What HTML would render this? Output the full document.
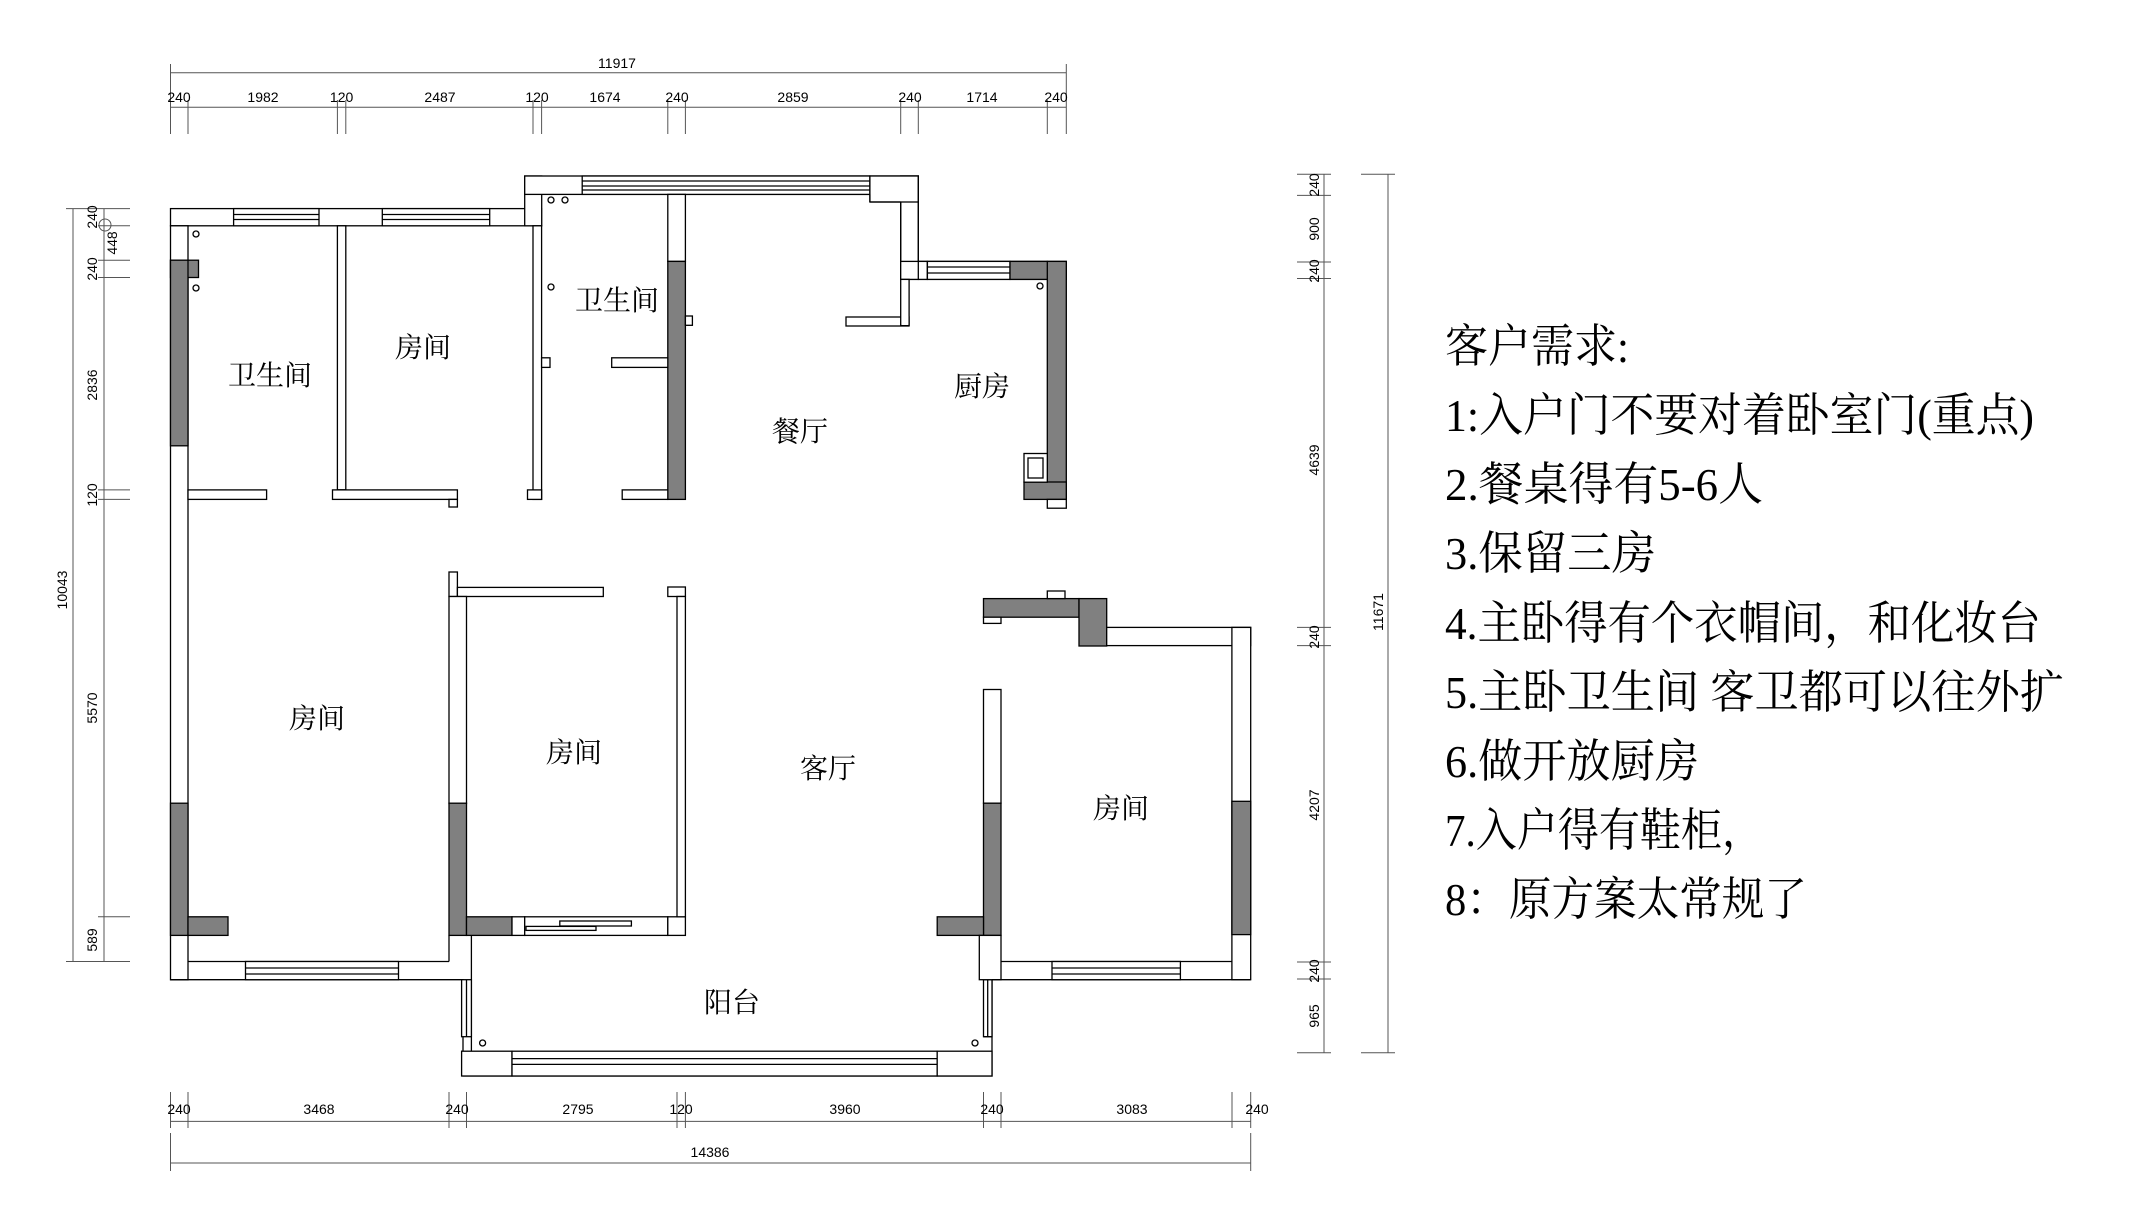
<!DOCTYPE html>
<html><head><meta charset="utf-8"><style>
html,body{margin:0;padding:0;background:#fff;width:2150px;height:1228px;overflow:hidden}
svg{display:block}
.w{fill:#fff;stroke:#000;stroke-width:1.3}
.g{fill:#808080;stroke:#000;stroke-width:1.3}
.l{stroke:#000;stroke-width:1.3;fill:none}
.d{stroke:#555;stroke-width:1;fill:none}
.t{font-family:"Liberation Sans","Noto Sans CJK SC",sans-serif;font-size:14px;fill:#000}
.r{font-family:"Liberation Serif","Noto Serif CJK SC",serif;font-size:28px;fill:#000}
.q{font-family:"Liberation Serif","Noto Serif CJK SC",serif;font-size:46px;fill:#000}
</style></head><body>
<svg width="2150" height="1228" viewBox="0 0 2150 1228" xmlns="http://www.w3.org/2000/svg">
<g class="d">
<line x1="170.5" y1="72.7" x2="1066.3" y2="72.7"/>
<line x1="170.5" y1="107.2" x2="1066.3" y2="107.2"/>
<line x1="170.5" y1="64" x2="170.5" y2="134"/><line x1="1066.3" y1="64" x2="1066.3" y2="134"/>
<line x1="188" y1="100" x2="188" y2="134"/><line x1="337.4" y1="100" x2="337.4" y2="134"/><line x1="345.8" y1="100" x2="345.8" y2="134"/>
<line x1="533" y1="100" x2="533" y2="134"/><line x1="541.6" y1="100" x2="541.6" y2="134"/><line x1="667.8" y1="100" x2="667.8" y2="134"/>
<line x1="685.4" y1="100" x2="685.4" y2="134"/><line x1="900.7" y1="100" x2="900.7" y2="134"/><line x1="918.3" y1="100" x2="918.3" y2="134"/>
<line x1="1047.3" y1="100" x2="1047.3" y2="134"/>
</g>
<g class="t" text-anchor="middle">
<text x="617" y="68">11917</text>
<text x="179" y="102">240</text><text x="263" y="102">1982</text><text x="341.6" y="102">120</text><text x="440" y="102">2487</text>
<text x="537" y="102">120</text><text x="605" y="102">1674</text><text x="677" y="102">240</text><text x="793" y="102">2859</text>
<text x="910" y="102">240</text><text x="982" y="102">1714</text><text x="1056" y="102">240</text>
</g>
<g class="d">
<line x1="170.5" y1="1121.4" x2="1250.7" y2="1121.4"/>
<line x1="170.5" y1="1163" x2="1250.7" y2="1163"/>
<line x1="170.5" y1="1092" x2="170.5" y2="1128"/><line x1="188" y1="1092" x2="188" y2="1128"/>
<line x1="449" y1="1092" x2="449" y2="1128"/><line x1="466.5" y1="1092" x2="466.5" y2="1128"/>
<line x1="677" y1="1092" x2="677" y2="1128"/><line x1="685.4" y1="1092" x2="685.4" y2="1128"/>
<line x1="983.5" y1="1092" x2="983.5" y2="1128"/><line x1="1001" y1="1092" x2="1001" y2="1128"/>
<line x1="1232" y1="1092" x2="1232" y2="1128"/><line x1="1250.7" y1="1092" x2="1250.7" y2="1128"/>
<line x1="170.5" y1="1133" x2="170.5" y2="1171"/><line x1="1250.7" y1="1133" x2="1250.7" y2="1171"/>
</g>
<g class="t" text-anchor="middle">
<text x="179" y="1114">240</text><text x="319" y="1114">3468</text><text x="457" y="1114">240</text>
<text x="578" y="1114">2795</text><text x="681" y="1114">120</text><text x="845" y="1114">3960</text>
<text x="992" y="1114">240</text><text x="1132" y="1114">3083</text><text x="1257" y="1114">240</text>
<text x="710" y="1157">14386</text>
</g>
<g class="d">
<line x1="73" y1="208.6" x2="73" y2="961.5"/>
<line x1="104" y1="208.6" x2="104" y2="961.5"/>
<line x1="66" y1="208.6" x2="130" y2="208.6"/><line x1="66" y1="961.5" x2="130" y2="961.5"/>
<line x1="98" y1="225.8" x2="130" y2="225.8"/><line x1="98" y1="260.2" x2="130" y2="260.2"/>
<line x1="98" y1="277.5" x2="130" y2="277.5"/><line x1="98" y1="489.9" x2="130" y2="489.9"/>
<line x1="98" y1="499.4" x2="130" y2="499.4"/><line x1="98" y1="916.8" x2="130" y2="916.8"/>
</g>
<g class="t" text-anchor="middle">
<text transform="translate(97,217) rotate(-90)">240</text>
<text transform="translate(117,243) rotate(-90)">448</text>
<text transform="translate(97,269) rotate(-90)">240</text>
<text transform="translate(97,385) rotate(-90)">2836</text>
<text transform="translate(97,495) rotate(-90)">120</text>
<text transform="translate(97,708) rotate(-90)">5570</text>
<text transform="translate(97,940) rotate(-90)">589</text>
<text transform="translate(67,590) rotate(-90)">10043</text>
</g>
<circle cx="105" cy="225" r="6" class="d"/>
<g class="d">
<line x1="1324" y1="174.2" x2="1324" y2="1052.8"/>
<line x1="1388" y1="174.2" x2="1388" y2="1052.8"/>
<line x1="1297" y1="174.2" x2="1331" y2="174.2"/><line x1="1297" y1="195.4" x2="1331" y2="195.4"/>
<line x1="1297" y1="262" x2="1331" y2="262"/><line x1="1297" y1="278.5" x2="1331" y2="278.5"/>
<line x1="1297" y1="627.4" x2="1331" y2="627.4"/><line x1="1297" y1="645.6" x2="1331" y2="645.6"/>
<line x1="1297" y1="962" x2="1331" y2="962"/><line x1="1297" y1="979" x2="1331" y2="979"/>
<line x1="1297" y1="1052.8" x2="1331" y2="1052.8"/>
<line x1="1361" y1="174.2" x2="1395" y2="174.2"/><line x1="1361" y1="1052.8" x2="1395" y2="1052.8"/>
</g>
<g class="t" text-anchor="middle">
<text transform="translate(1319,185) rotate(-90)">240</text>
<text transform="translate(1319,229) rotate(-90)">900</text>
<text transform="translate(1319,271) rotate(-90)">240</text>
<text transform="translate(1319,460) rotate(-90)">4639</text>
<text transform="translate(1319,637) rotate(-90)">240</text>
<text transform="translate(1319,805) rotate(-90)">4207</text>
<text transform="translate(1319,971) rotate(-90)">240</text>
<text transform="translate(1319,1016) rotate(-90)">965</text>
<text transform="translate(1383,612) rotate(-90)">11671</text>
</g>

<rect class="w" x="170.5" y="208.6" width="371" height="17.2"/>
<rect class="w" x="233.6" y="208.6" width="85.4" height="17.2"/>
<line class="l" x1="233.6" y1="214.5" x2="319" y2="214.5"/><line class="l" x1="233.6" y1="219.5" x2="319" y2="219.5"/>
<rect class="w" x="382.3" y="208.6" width="107.4" height="17.2"/>
<line class="l" x1="382.3" y1="214.5" x2="489.7" y2="214.5"/><line class="l" x1="382.3" y1="219.5" x2="489.7" y2="219.5"/>
<rect class="w" x="524.7" y="176" width="17" height="49.8"/>
<rect class="w" x="524.7" y="176" width="393.6" height="18.4"/>
<rect class="w" x="582.2" y="176" width="287.7" height="18.4"/>
<line class="l" x1="582.2" y1="181" x2="869.9" y2="181"/><line class="l" x1="582.2" y1="186" x2="869.9" y2="186"/><line class="l" x1="582.2" y1="190" x2="869.9" y2="190"/>
<rect class="w" x="900.7" y="176" width="17.6" height="103.4"/>
<rect class="w" x="869.9" y="176" width="48.4" height="26" stroke="none"/>
<line class="l" x1="869.9" y1="194.4" x2="869.9" y2="202"/><line class="l" x1="869.9" y1="202" x2="900.7" y2="202"/>
<line class="l" x1="918.3" y1="176" x2="918.3" y2="261.4"/><line class="l" x1="900.7" y1="202" x2="900.7" y2="279.4"/>
<rect class="w" x="900.7" y="261.4" width="146.6" height="18"/>
<rect class="w" x="918.3" y="261.4" width="9" height="18" stroke="none"/>
<rect class="w" x="927.4" y="261.4" width="82.6" height="18"/>
<line class="l" x1="927.4" y1="267" x2="1010" y2="267"/><line class="l" x1="927.4" y1="273" x2="1010" y2="273"/>
<rect class="g" x="1010" y="261.4" width="56.3" height="18"/>
<rect class="g" x="1047.3" y="261.4" width="19" height="238"/>
<rect class="g" x="1024" y="482" width="42.3" height="17.4"/>
<rect class="w" x="1047.3" y="499.4" width="19" height="8.8"/>
<rect class="w" x="1024" y="453.5" width="23.3" height="28.7"/>
<rect class="w" x="1028" y="458" width="15" height="20"/>
<rect class="w" x="846" y="317" width="63" height="9"/>
<rect class="w" x="900.7" y="279.4" width="8.4" height="46" />
<rect x="901.5" y="316" width="6.8" height="9" fill="#fff"/>
<rect class="w" x="170.5" y="225.8" width="17.5" height="754"/>
<rect class="g" x="170.5" y="260.2" width="28" height="17.3"/>
<rect class="g" x="170.5" y="260.2" width="17.5" height="185.6"/>
<rect class="g" x="170.5" y="803.2" width="17.5" height="132.2"/>
<rect class="g" x="188" y="916.8" width="40" height="18.6"/>
<rect class="w" x="337.4" y="225.8" width="8.4" height="264"/>
<rect class="w" x="188" y="489.9" width="78.6" height="9.5"/>
<rect class="w" x="332.5" y="489.9" width="124.9" height="9.5"/>
<rect class="w" x="449" y="499.4" width="8.4" height="7.6"/>
<rect class="w" x="533" y="225.8" width="8.6" height="273.6"/>
<rect class="w" x="527.5" y="489.9" width="14.1" height="9.5"/>
<rect class="w" x="541.6" y="357.8" width="8.4" height="9.6"/>
<rect class="w" x="667.8" y="194.4" width="17.6" height="67"/>
<rect class="g" x="667.8" y="261.4" width="17.6" height="238"/>
<rect class="w" x="611.7" y="357.8" width="56.1" height="9.6"/>
<rect class="w" x="622.2" y="489.9" width="45.6" height="9.5"/>
<rect class="w" x="685.4" y="316" width="7" height="9.3"/>
<g class="l">
<circle cx="196" cy="234" r="3"/><circle cx="196" cy="288" r="3"/><circle cx="551" cy="200" r="3"/><circle cx="565" cy="200" r="3"/>
<circle cx="551" cy="287" r="3"/><circle cx="1040" cy="286" r="3"/><circle cx="482.6" cy="1043" r="3"/><circle cx="975" cy="1043" r="3"/>
</g>
<path class="l" d="M170.5 979.7 H463 V1076 H992 V979.7"/>
<line class="l" x1="188" y1="961.5" x2="449" y2="961.5"/>
<rect class="w" x="245.5" y="961.5" width="153" height="18.2"/>
<line class="l" x1="245.5" y1="968" x2="398.5" y2="968"/><line class="l" x1="245.5" y1="974" x2="398.5" y2="974"/>
<rect class="w" x="449" y="572" width="8.4" height="24.5"/>
<rect class="w" x="457.4" y="587.4" width="145.9" height="9.1"/>
<rect class="w" x="449" y="596.5" width="17.5" height="207"/>
<rect class="g" x="449" y="803.2" width="17.5" height="132.2"/>
<rect class="g" x="466.5" y="916.8" width="45.5" height="18.6"/>
<rect class="w" x="512" y="916.8" width="12.7" height="18.6"/>
<rect class="w" x="524.7" y="916.8" width="143.1" height="18.6"/>
<rect class="w" x="559.8" y="921" width="71.6" height="5"/>
<rect class="w" x="526" y="926.4" width="70" height="4"/>
<rect class="w" x="667.8" y="916.8" width="17.6" height="18.6"/>
<rect class="w" x="667.8" y="587" width="17.6" height="9.5"/>
<rect class="w" x="677" y="596.5" width="8.4" height="320.3"/>
<line class="l" x1="449" y1="935.4" x2="449" y2="961.5"/>
<line class="l" x1="471.4" y1="935.4" x2="471.4" y2="1051"/>
<rect class="w" x="461.6" y="979.7" width="9.8" height="57"/>
<line class="l" x1="466.5" y1="979.7" x2="466.5" y2="1036.7"/>
<rect class="w" x="461.6" y="1051.2" width="50.4" height="24.8"/>
<rect class="w" x="512" y="1051.2" width="425.2" height="24.8"/>
<line class="l" x1="512" y1="1058.6" x2="937.2" y2="1058.6"/><line class="l" x1="512" y1="1064.4" x2="937.2" y2="1064.4"/>
<rect class="w" x="937.2" y="1051.2" width="54.8" height="24.8"/>
<rect class="w" x="983.5" y="979.7" width="8.5" height="57"/>
<line class="l" x1="987.7" y1="979.7" x2="987.7" y2="1036.7"/>
<line class="l" x1="983.5" y1="1036.7" x2="992" y2="1036.7"/>
<rect class="g" x="983.5" y="598.6" width="95.5" height="18.6"/>
<rect class="g" x="1079" y="598.6" width="27.7" height="47.4"/>
<rect class="w" x="1047.3" y="591" width="17.7" height="7.6"/>
<rect class="w" x="983.5" y="617.2" width="17.5" height="6.2"/>
<rect class="w" x="1106.7" y="627.4" width="144" height="18.2"/>
<rect class="w" x="1231.9" y="627.4" width="18.8" height="352.3"/>
<rect class="g" x="1231.9" y="801.3" width="18.8" height="133.3"/>
<rect class="w" x="983.5" y="689.5" width="17.5" height="113.7"/>
<rect class="g" x="983.5" y="803.2" width="17.5" height="132.2"/>
<rect class="g" x="937.2" y="916.8" width="46.3" height="18.6"/>
<rect class="w" x="979.3" y="935.4" width="21.7" height="44.3"/>
<path class="l" d="M1001 961.5 H1231.9 M992 979.7 H1250.7"/>
<rect class="w" x="1052" y="961.5" width="128.4" height="18.2"/>
<line class="l" x1="1052" y1="968" x2="1180.4" y2="968"/><line class="l" x1="1052" y1="974" x2="1180.4" y2="974"/>
<g class="r" text-anchor="middle">
<text x="270" y="385">卫生间</text>
<text x="423" y="357">房间</text>
<text x="617" y="310">卫生间</text>
<text x="982" y="396">厨房</text>
<text x="800" y="441">餐厅</text>
<text x="317" y="728">房间</text>
<text x="574" y="762">房间</text>
<text x="828" y="778">客厅</text>
<text x="732" y="1012">阳台</text>
<text x="1121" y="818">房间</text>
</g>
<g class="q">
<text x="1445" y="362" textLength="184" lengthAdjust="spacingAndGlyphs">客户需求:</text>
<text x="1445" y="431" textLength="589" lengthAdjust="spacingAndGlyphs">1:入户门不要对着卧室门(重点)</text>
<text x="1445" y="500" textLength="318" lengthAdjust="spacingAndGlyphs">2.餐桌得有5-6人</text>
<text x="1445" y="569" textLength="211" lengthAdjust="spacingAndGlyphs">3.保留三房</text>
<text x="1445" y="639" textLength="596" lengthAdjust="spacingAndGlyphs">4.主卧得有个衣帽间，和化妆台</text>
<text x="1445" y="708" textLength="619" lengthAdjust="spacingAndGlyphs">5.主卧卫生间 客卫都可以往外扩</text>
<text x="1445" y="777" textLength="254" lengthAdjust="spacingAndGlyphs">6.做开放厨房</text>
<text x="1445" y="846" textLength="318" lengthAdjust="spacingAndGlyphs">7.入户得有鞋柜，</text>
<text x="1445" y="915" textLength="362" lengthAdjust="spacingAndGlyphs">8：原方案太常规了</text>
</g>
</svg>
</body></html>
